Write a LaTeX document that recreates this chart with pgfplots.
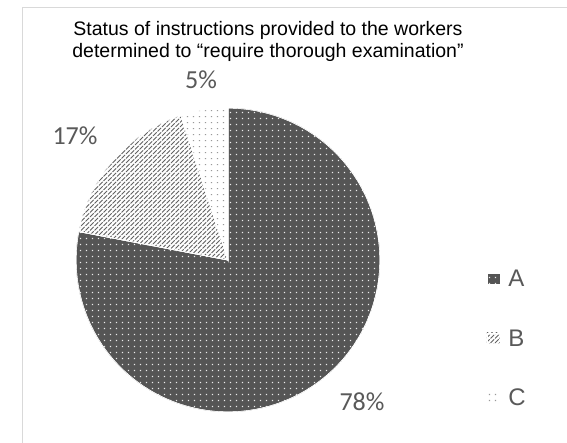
\documentclass[border=0pt]{standalone}
\usepackage{pgfplots}
\pgfplotsset{compat=1.18}
\usepgfplotslibrary{polar}
\usetikzlibrary{patterns}
\usepackage{fontspec}
\setmainfont{Liberation Sans}
\newfontfamily\carlito{Carlito}
\definecolor{darkA}{HTML}{555555}
\definecolor{labelgray}{HTML}{595959}
\definecolor{bordergray}{HTML}{D9D9D9}

\pgfdeclarepatternformonly{Adots}{\pgfqpoint{0pt}{0pt}}{\pgfqpoint{5.6pt}{5.6pt}}{\pgfqpoint{5.6pt}{5.6pt}}{%
  \pgfpathrectangle{\pgfqpoint{2pt}{2pt}}{\pgfqpoint{1.3pt}{1.3pt}}\pgfusepath{fill}}
\pgfdeclarepatternformonly{Bhatch}{\pgfqpoint{-1pt}{-1pt}}{\pgfqpoint{5.5pt}{5.5pt}}{\pgfqpoint{4.5pt}{4.5pt}}{%
  \pgfsetlinewidth{0.75pt}%
  \pgfpathmoveto{\pgfqpoint{0pt}{0pt}}\pgfpathlineto{\pgfqpoint{3.7pt}{3.7pt}}\pgfusepath{stroke}}
\pgfdeclarepatternformonly{Cdots}{\pgfqpoint{0pt}{0pt}}{\pgfqpoint{5.6pt}{5.6pt}}{\pgfqpoint{5.6pt}{5.6pt}}{%
  \pgfpathrectangle{\pgfqpoint{2pt}{2pt}}{\pgfqpoint{1.2pt}{1.2pt}}\pgfusepath{fill}}

\begin{document}
\begin{tikzpicture}
\useasboundingbox (0pt,0pt) rectangle (567pt,442pt);
\draw[bordergray, line width=1pt] (22pt,434pt) rectangle (600pt,-20pt);
\node[align=center, font=\fontsize{19.5}{22}\selectfont] at (268pt,401pt)
  {Status of instructions provided to the workers\\determined to “require thorough examination”};
\begin{polaraxis}[
  at={(228pt,182pt)}, anchor=center,
  width=304pt, height=304pt, scale only axis,
  hide axis, ymin=0, ymax=1,
  legend style={draw=none, fill=none, at={(1.34,0.481)}, anchor=north west,
    font=\fontsize{24}{26}\selectfont, text=labelgray, row sep=37.5pt},
  legend cell align=left,
  legend image code/.code={\path[#1,draw=none] (0pt,-5.5pt) rectangle (13pt,5.5pt);
    \path (19pt,0pt);},
]
% A: 78%, B: 17%, C: 5%  (clockwise from 12 o'clock)
\addplot[draw=white, line width=0.8pt, fill=darkA,
  postaction={pattern=Adots, pattern color=white!92!black},
  domain=-190.8:90, samples=150] {1} -- (axis cs:0,0) -- cycle;
\addlegendentry{A}
\addplot[draw=white, line width=0.8pt, fill=white,
  postaction={pattern=Bhatch, pattern color=black!62},
  domain=-252:-190.8, samples=40] {1} -- (axis cs:0,0) -- cycle;
\addlegendentry{B}
\addplot[draw=white, line width=0.8pt, fill=white,
  postaction={pattern=Cdots, pattern color=black!40},
  domain=-270:-252, samples=15] {1} -- (axis cs:0,0) -- cycle;
\addlegendentry{C}
\end{polaraxis}
\node[text=labelgray, font=\carlito\fontsize{26}{28}\selectfont] at (201pt,362pt) {5\%};
\node[text=labelgray, font=\carlito\fontsize{26}{28}\selectfont] at (75pt,306pt) {17\%};
\node[text=labelgray, font=\carlito\fontsize{26}{28}\selectfont] at (362pt,40pt) {78\%};
\end{tikzpicture}
\end{document}
